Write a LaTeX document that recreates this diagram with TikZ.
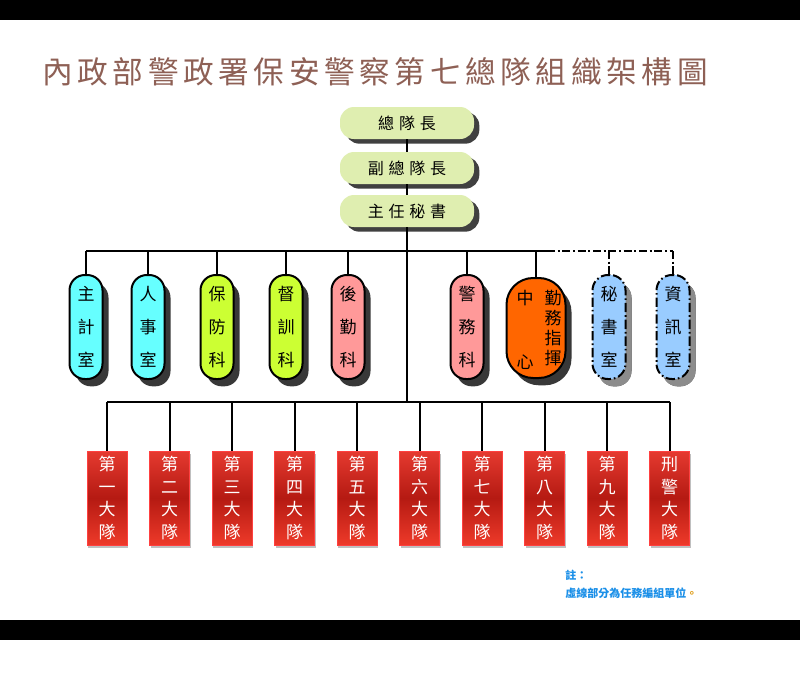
\documentclass[tikz,border=0pt]{standalone}
\usepackage{fontspec}
\setmainfont{Noto Sans CJK TC}
\usetikzlibrary{shadows}
\definecolor{titlec}{HTML}{8E6055}
\definecolor{topfill}{HTML}{DFEEB0}
\definecolor{cyanf}{HTML}{66FFFF}
\definecolor{limef}{HTML}{CCFF33}
\definecolor{pinkf}{HTML}{FF9999}
\definecolor{orangef}{HTML}{FF6600}
\definecolor{bluef}{HTML}{99CCFF}
\definecolor{notec}{HTML}{1A8FE8}
\definecolor{goldc}{HTML}{E0A020}
\definecolor{redtop}{HTML}{E53A30}
\definecolor{redmid}{HTML}{B51A12}
\definecolor{redbot}{HTML}{EE3A2A}
\newcommand{\mygap}{\hspace{0.3em}}
\begin{document}
\begin{tikzpicture}[x=0.75pt,y=-0.75pt,
  conn/.style={line width=1.5pt},
  dconn/.style={line width=1.5pt, dash pattern=on 6pt off 2pt on 1.5pt off 2pt},
  topbox/.style={fill=topfill, rounded corners=10.5pt, minimum width=100.5pt, minimum height=24pt, inner sep=0pt,
    font=\fontsize{12}{12}\selectfont,
    drop shadow={shadow xshift=4pt, shadow yshift=-3.5pt, fill=black!75, opacity=1}},
  capsule/.style={draw, line width=1.5pt, rounded corners=11.5pt, minimum width=24.75pt, minimum height=78pt,
    inner sep=0pt, align=center, font=\fontsize{12.75}{24.75}\selectfont,
    drop shadow={shadow xshift=4.5pt, shadow yshift=-5.5pt, fill=black!78, opacity=1}},
  dcapsule/.style={capsule, dash pattern=on 7pt off 2.2pt on 1.2pt off 2.2pt, fill=bluef,
    drop shadow={shadow xshift=4.5pt, shadow yshift=-5.5pt, fill=black!45, opacity=1}},
  ctext/.style={inner sep=0pt, font=\fontsize{12.75}{15}\selectfont, align=center},
  redbox/.style={shade, top color=redtop, bottom color=redbot, middle color=redmid, draw=red!75!white, line width=0.6pt,
    minimum width=30pt, minimum height=70.5pt, inner sep=0pt, text=white, align=center,
    font=\fontsize{12.75}{16.9}\selectfont,
    drop shadow={shadow xshift=0.8pt, shadow yshift=-2.2pt, fill=black, opacity=0.25}},
  notestyle/.style={anchor=west, inner sep=0pt, text=notec, font=\fontsize{8.25}{10}\selectfont\bfseries}
]
\useasboundingbox (0,0) rectangle (800,693);
\fill[white] (0,0) rectangle (800,693);
\fill[black] (0,0) rectangle (800,20);
\fill[black] (0,620) rectangle (800,640);

% title
\node[anchor=west, inner sep=0pt, text=titlec, font=\fontsize{23}{23}\selectfont\addfontfeatures{LetterSpace=15}] (title) at (42,72) {內政部警政署保安警察第七總隊組織架構圖};

% top boxes
\node[topbox] (zg) at (407,123) {總\mygap 隊\mygap 長};
\node[topbox] (fz) at (407,168) {副\mygap 總\mygap 隊\mygap 長};
\node[topbox] (ms) at (407,211) {主\mygap 任\mygap 秘\mygap 書};

% bus coordinates
\coordinate (busAL) at (86,251);
\coordinate (busAM) at (547,251);
\coordinate (busAR) at (673,251);
\coordinate (busBL) at (107,402);
\coordinate (busBR) at (669.5,402);

% capsules
\node[capsule, fill=cyanf] (zj) at (86,327) {主\\計\\室};
\node[capsule, fill=cyanf] (rs) at (148,327) {人\\事\\室};
\node[capsule, fill=limef] (bf) at (217,327) {保\\防\\科};
\node[capsule, fill=limef] (dx) at (286,327) {督\\訓\\科};
\node[capsule, fill=pinkf] (hq) at (348,327) {後\\勤\\科};
\node[capsule, fill=pinkf] (jw) at (467,327) {警\\務\\科};
\node[capsule, fill=orangef, minimum width=44.25pt, minimum height=75pt, rounded corners=20pt] (qw) at (536,328) {};
\node[ctext] (qwa) at (553,328) {勤\\務\\指\\揮};
\node[ctext] (qwb) at (525,298) {中};
\node[ctext] (qwc) at (525,362) {心};
\node[dcapsule] (mss) at (609,327) {秘\\書\\室};
\node[dcapsule] (zx) at (673,327) {資\\訊\\室};

% red boxes
\foreach \i/\t in {1/{第\\一\\大\\隊},2/{第\\二\\大\\隊},3/{第\\三\\大\\隊},4/{第\\四\\大\\隊},5/{第\\五\\大\\隊},
                    6/{第\\六\\大\\隊},7/{第\\七\\大\\隊},8/{第\\八\\大\\隊},9/{第\\九\\大\\隊},10/{刑\\警\\大\\隊}}
  \node[redbox] (d\i) at ({107+62.5*(\i-1)},498) {\t};

% connectors
\draw[conn] (zg.south) -- (fz.north);
\draw[conn] (fz.south) -- (ms.north);
\draw[conn] (ms.south) -- (ms.south |- busBL);
\draw[conn] (busAL) -- (busAM);
\draw[dconn] (busAM) -- (busAR);
\foreach \n in {zj,rs,bf,dx,hq,jw,qw}
  \draw[conn] (\n.north |- busAL) -- (\n.north);
\draw[dconn] (mss.north |- busAL) -- (mss.north);
\draw[dconn] (busAR) -- (zx.north);
\draw[conn] (busBL) -- (busBR);
\foreach \i in {1,...,10}
  \draw[conn] (d\i.north |- busBL) -- (d\i.north);

% note
\node[notestyle] (n1) at (565,575) {註：};
\node[notestyle] (n2) at (565,593) {虛線部分為任務編組單位\textcolor{goldc}{。}};
\end{tikzpicture}
\end{document}
